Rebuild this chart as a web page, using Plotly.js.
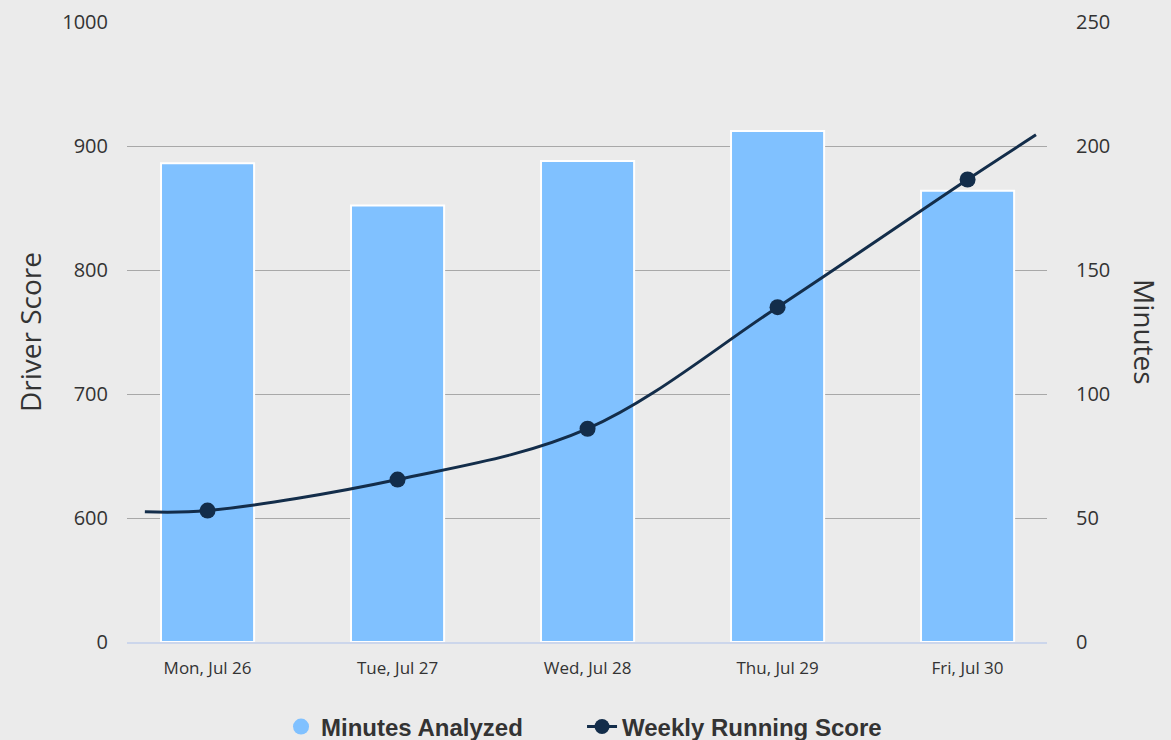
<!DOCTYPE html>
<html>
<head>
<meta charset="utf-8">
<script src="https://cdn.plot.ly/plotly-3.0.1.min.js"></script>
<style>
  html, body { margin: 0; padding: 0; background: #ebebeb; }
  #chart { width: 1171px; height: 740px; }
</style>
</head>
<body>
<div id="chart"></div>
<script>
// Categories
const days = ["Mon, Jul 26", "Tue, Jul 27", "Wed, Jul 28", "Thu, Jul 29", "Fri, Jul 30"];
// Minutes analyzed (right axis)
const minutesAnalyzed = [193, 176, 194, 206, 182];
// Weekly running score (left axis), incl. the line's lead-in / lead-out points
const scorePos = [-0.33, 0, 1, 2, 3, 4, 4.36];
const weeklyScore = [605, 606, 631, 672, 770, 873, 909];
const scoreMarkerShown = [false, true, true, true, true, true, false];
// Tick labels
const scoreTickLabels = ["0", "600", "700", "800", "900", "1000"];
const scoreTickVals = [500, 600, 700, 800, 900, 1000];
const minuteTicks = [0, 50, 100, 150, 200, 250];

const BAR = "#80c1ff";
const NAVY = "#132d4a";
const idx = days.map((d, i) => i);

const traces = [
  {
    type: "bar",
    name: "Minutes Analyzed",
    x: idx,
    y: minutesAnalyzed,
    yaxis: "y",
    width: 0.49,
    marker: { color: BAR, line: { color: "#ffffff", width: 2 } },
    showlegend: false,
    legendgroup: "min",
    hoverinfo: "x+y"
  },
  {
    type: "scatter",
    mode: "markers",
    name: "Minutes Analyzed",
    x: [null],
    y: [null],
    yaxis: "y",
    marker: { color: BAR, size: 20, symbol: "circle", opacity: 1, line: { width: 0 } },
    legendgroup: "min",
    showlegend: true
  },
  {
    type: "scatter",
    mode: "lines+markers",
    name: "Weekly Running Score",
    x: scorePos,
    y: weeklyScore,
    yaxis: "y2",
    line: { color: NAVY, width: 3, shape: "spline", smoothing: 1 },
    marker: { color: NAVY, opacity: 1, size: scoreMarkerShown.map(s => s ? 16 : 0), line: { width: 0 } },
    showlegend: false,
    legendgroup: "score"
  },
  {
    type: "scatter",
    mode: "lines+markers",
    name: "Weekly Running Score",
    x: [null],
    y: [null],
    yaxis: "y2",
    line: { color: NAVY, width: 3 },
    marker: { color: NAVY, size: 15, opacity: 1, line: { width: 0 } },
    legendgroup: "score",
    showlegend: true
  }
];

const fontMain = "'Open Sans', 'Noto Sans', sans-serif";

const layout = {
  width: 1171,
  height: 740,
  paper_bgcolor: "#ebebeb",
  plot_bgcolor: "#ebebeb",
  margin: { l: 127, r: 124, t: 22, b: 98, autoexpand: false },
  showlegend: true,
  xaxis: {
    type: "linear",
    range: [-0.424, 4.418],
    tickvals: idx,
    ticktext: days,
    ticks: "",
    showgrid: false,
    zeroline: false,
    showline: true,
    linecolor: "#ccd6eb",
    linewidth: 2,
    layer: "below traces",
    tickfont: { family: fontMain, size: 17, color: "#333333" },
    ticklabelstandoff: 10,
    fixedrange: true
  },
  yaxis: {
    side: "right",
    range: [0, 250],
    tickvals: minuteTicks,
    ticks: "",
    showgrid: true,
    gridcolor: "#a8a8a8",
    gridwidth: 1,
    zeroline: false,
    showline: false,
    tickfont: { family: fontMain, size: 20, color: "#333333" },
    ticklabelstandoff: 28,
    fixedrange: true
  },
  yaxis2: {
    side: "left",
    overlaying: "y",
    range: [500, 1000],
    tickvals: scoreTickVals,
    ticktext: scoreTickLabels,
    ticks: "",
    showgrid: false,
    zeroline: false,
    showline: false,
    tickfont: { family: fontMain, size: 20, color: "#333333" },
    ticklabelstandoff: 18,
    fixedrange: true
  },
  legend: {
    orientation: "h",
    x: 0.4946,
    xanchor: "center",
    y: -0.137,
    yanchor: "middle",
    entrywidth: 256,
    traceorder: "normal",
    bgcolor: "rgba(0,0,0,0)",
    font: { family: "'Liberation Sans', Arial, sans-serif", size: 24, color: "#333333", weight: "bold" },
    itemclick: false,
    itemdoubleclick: false
  },
  annotations: [
    {
      text: "Driver Score",
      xref: "paper", yref: "paper",
      x: -0.1054, y: 0.5,
      xanchor: "center", yanchor: "middle",
      textangle: -90,
      showarrow: false,
      font: { family: fontMain, size: 28, color: "#333333" }
    },
    {
      text: "Minutes",
      xref: "paper", yref: "paper",
      x: 1.1065, y: 0.5,
      xanchor: "center", yanchor: "middle",
      textangle: 90,
      showarrow: false,
      font: { family: fontMain, size: 28, color: "#333333" }
    }
  ]
};

Plotly.newPlot("chart", traces, layout, { displayModeBar: false });
</script>
</body>
</html>
